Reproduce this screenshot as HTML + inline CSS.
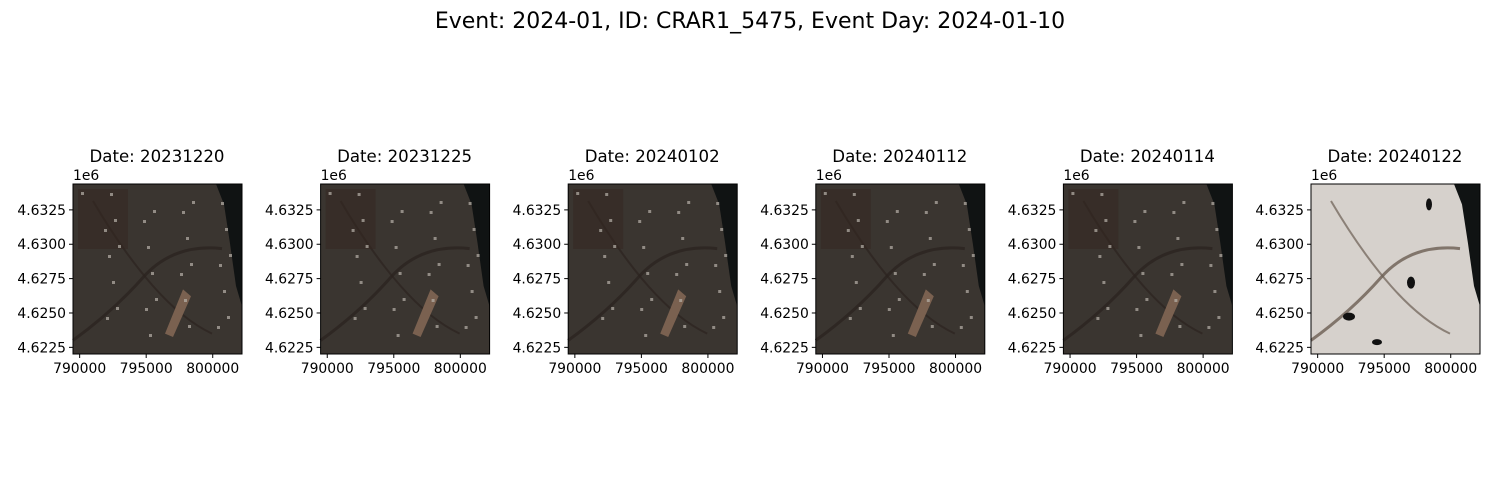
<!DOCTYPE html>
<html><head><meta charset="utf-8">
<style>
html,body{margin:0;padding:0;background:#fff;}
svg{display:block;font-family:"DejaVu Sans","Liberation Sans",sans-serif;}
</style></head>
<body>
<svg id="fig" width="1500" height="500" viewBox="0 0 1500 500">
<text x="750" y="28" text-anchor="middle" font-size="22" fill="#000">Event: 2024-01, ID: CRAR1_5475, Event Day: 2024-01-10</text>
</svg>
<script>
const dates = ["20231220","20231225","20240102","20240112","20240114","20240122"];
const snowy = [false,false,false,false,false,true];
const xTicks = [790000,795000,800000];
const yTicks = [4.6225,4.6250,4.6275,4.6300,4.6325];
const xDomain = [789500,802200];
const yDomain = [4.622016,4.634383];

const NS="http://www.w3.org/2000/svg";
const svg=document.getElementById('fig');
function mk(tag,attrs,parent){const e=document.createElementNS(NS,tag);for(const k in attrs)e.setAttribute(k,attrs[k]);(parent||svg).appendChild(e);return e;}
const W=169,H=170,top0=184,left0=73,step=247.6;
dates.forEach((d,i)=>{
  const L=left0+i*step;
  const sx=v=>L+(v-xDomain[0])/(xDomain[1]-xDomain[0])*W;
  const sy=v=>top0+H-(v-yDomain[0])/(yDomain[1]-yDomain[0])*H;
  const g=mk('g',{});
  
  
  const t=mk('text',{x:L+W/2-0.5,y:162,'text-anchor':'middle','font-size':'16.6',fill:'#000'},g);
  t.textContent='Date: '+d;
  
  
  const s=snowy[i];
  const img=mk('g',{},g);
  
  
  mk('rect',{x:L,y:top0,width:W,height:H,fill:s?'#d6d1cc':'#3a3530'},img);
  mk('path',{d:`M${L+W-26} ${top0} L${L+W} ${top0} L${L+W} ${top0+H*0.72} L${L+W-6} ${top0+H*0.6} L${L+W-12} ${top0+H*0.35} L${L+W-18} ${top0+H*0.12} Z`,fill:'#101313'},img);
  const c=s?'#6b5e52':'#2c2420';
  mk('path',{d:`M${L} ${top0+H*0.92} Q${L+40} ${top0+H*0.75} ${L+70} ${top0+H*0.55} T${L+W-20} ${top0+H*0.38}`,stroke:c,'stroke-width':3,fill:'none',opacity:0.8},img);
  mk('path',{d:`M${L+20} ${top0+H*0.1} Q${L+50} ${top0+H*0.4} ${L+80} ${top0+H*0.6} T${L+W-30} ${top0+H*0.88}`,stroke:c,'stroke-width':2,fill:'none',opacity:0.7},img);
  if(!s){
    mk('rect',{x:L+5,y:top0+5,width:50,height:60,fill:'#34261f',opacity:0.5},img);
    mk('path',{d:`M${L+92} ${top0+H*0.88} L${L+110} ${top0+H*0.62} L${L+118} ${top0+H*0.66} L${L+100} ${top0+H*0.9} Z`,fill:'#7a6150'},img);
    for(let k=0;k<30;k++){mk('rect',{x:L+((k*37)%150)+8,y:top0+((k*53)%150)+8,width:3,height:3,fill:'#b8b2aa',opacity:0.7},img);}
  } else {
    mk('ellipse',{cx:L+38,cy:top0+H*0.78,rx:6,ry:4,fill:'#111'},img);
    mk('ellipse',{cx:L+100,cy:top0+H*0.58,rx:4,ry:6,fill:'#111'},img);
    mk('ellipse',{cx:L+118,cy:top0+H*0.12,rx:3,ry:6,fill:'#111'},img);
    mk('ellipse',{cx:L+66,cy:top0+H*0.93,rx:5,ry:3,fill:'#111'},img);
  }
  mk('rect',{x:L,y:top0,width:W,height:H,fill:'none',stroke:'#000','stroke-width':1},g);
  xTicks.forEach(v=>{const x=sx(v);
    mk('line',{x1:x,x2:x,y1:top0+H,y2:top0+H+4,stroke:'#000'},g);
    const tl=mk('text',{x:x,y:top0+H+19,'text-anchor':'middle','font-size':'13.9',fill:'#000'},g);tl.textContent=String(v);
    
    });
  yTicks.forEach(v=>{const y=sy(v);
    mk('line',{x1:L-4,x2:L,y1:y,y2:y,stroke:'#000'},g);
    const tl=mk('text',{x:L-7,y:y+5,'text-anchor':'end','font-size':'13.9',fill:'#000'},g);tl.textContent=v.toFixed(4);
    
    });
  const off=mk('text',{x:L,y:top0-4,'font-size':'13.9',fill:'#000'},g);off.textContent='1e6';
  
  
});
</script>
</body></html>
